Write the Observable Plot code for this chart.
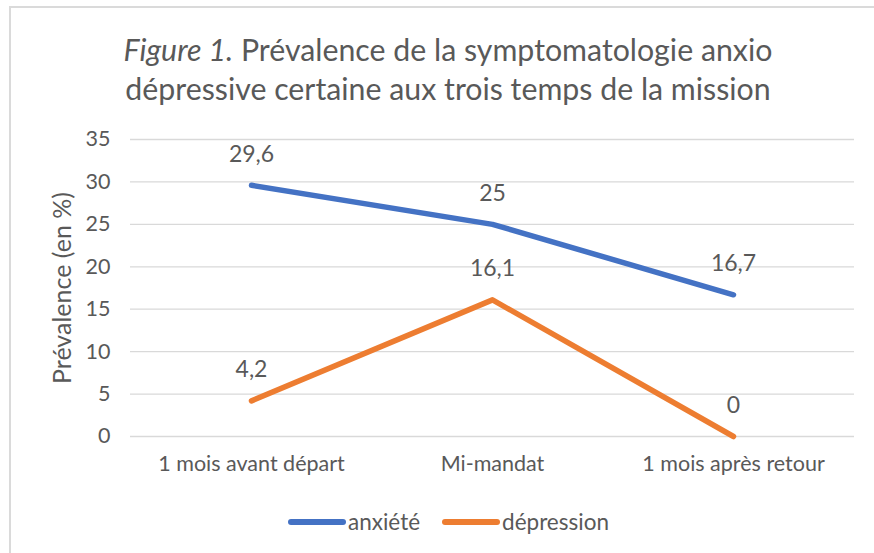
<!DOCTYPE html>
<html>
<head>
<meta charset="utf-8">
<script src="https://cdn.jsdelivr.net/npm/d3@7"></script>
<script src="https://cdn.jsdelivr.net/npm/@observablehq/plot@0.6"></script>
<style>
  html, body { margin: 0; padding: 0; background: #fff; }
  #wrap { position: relative; width: 874px; height: 553px; overflow: hidden; font-family: Lato, "Open Sans", sans-serif; color: #595959; }
  #frame { position: absolute; left: 9px; top: 6px; width: 900px; height: 560px; border-left: 2px solid #DADADA; border-top: 2px solid #DADADA; box-sizing: border-box; }
  #title { position: absolute; left: 0; width: 896px; top: 30px; text-align: center; font-size: 30.3px; line-height: 39px; color: #595959; white-space: nowrap; }
  #plot { position: absolute; left: 0; top: 0; }
  #legend { position: absolute; top: 508px; left: 288px; display: flex; font-size: 22.5px; line-height: 28px; }
  .item { display: flex; align-items: center; margin-right: 22px; }
  .sw { width: 58px; height: 6px; border-radius: 3px; margin-right: 2px; }
</style>
</head>
<body>
<div id="wrap">
  <div id="frame"></div>
  <div id="plot"></div>
  <div id="title"><i>Figure 1.</i> Prévalence de la symptomatologie anxio<br>dépressive certaine aux trois temps de la mission</div>
  <div id="legend"></div>
</div>
<script>
const categories = ["1 mois avant départ", "Mi-mandat", "1 mois après retour"];
const seriesNames = ["anxiété", "dépression"];
const anxiete = [29.6, 25, 16.7];
const depression = [4.2, 16.1, 0];
const colors = ["#4472C4", "#ED7D31"];
const yTicks = [0, 5, 10, 15, 20, 25, 30, 35];

const rows = [];
[anxiete, depression].forEach((vals, si) => {
  vals.forEach((v, i) => rows.push({cat: categories[i], value: v, series: seriesNames[si]}));
});
const fmt = v => String(v).replace(".", ",");

const chart = Plot.plot({
  width: 874,
  height: 553,
  marginTop: 139,
  marginBottom: 117,
  marginLeft: 130,
  marginRight: 20,
  style: {fontFamily: "Lato, 'Open Sans', sans-serif", color: "#595959", background: "transparent"},
  x: {type: "point", domain: categories, padding: 0.5, label: null},
  y: {domain: [0, 35], ticks: yTicks, label: null},
  color: {domain: seriesNames, range: colors},
  marks: [
    Plot.gridY(yTicks, {stroke: "#D9D9D9", strokeOpacity: 1, strokeWidth: 1.3}),
    Plot.axisY(yTicks, {tickSize: 0, tickPadding: 20, fontSize: 21.5, fill: "#595959", label: null}),
    Plot.axisX({tickSize: 0, tickPadding: 19, fontSize: 21.5, fill: "#595959", label: null}),
    Plot.text(["Prévalence (en %)"], {frameAnchor: "left", textAnchor: "middle", dx: -68, rotate: -90, fontSize: 25, fill: "#595959"}),
    Plot.line(rows, {x: "cat", y: "value", z: "series", stroke: "series", strokeWidth: 5.5, strokeLinecap: "round", strokeLinejoin: "round"}),
    Plot.text(rows, {x: "cat", y: "value", text: d => fmt(d.value), dy: -31, fontSize: 23, fill: "#595959"})
  ]
});
document.getElementById("plot").appendChild(chart);

const legend = document.getElementById("legend");
seriesNames.forEach((name, i) => {
  const it = document.createElement("div");
  it.className = "item";
  const sw = document.createElement("div");
  sw.className = "sw";
  sw.style.background = colors[i];
  it.appendChild(sw);
  const t = document.createElement("span");
  t.textContent = name;
  it.appendChild(t);
  legend.appendChild(it);
});
</script>
</body>
</html>
